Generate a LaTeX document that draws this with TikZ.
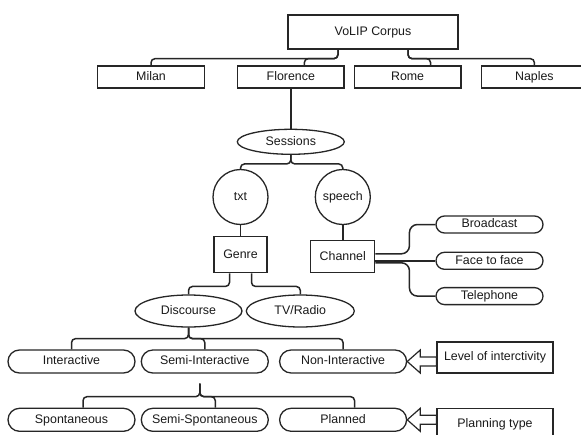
\documentclass[tikz,border=0pt]{standalone}
\usepackage{fontspec}
\setmainfont{Liberation Sans}
\usetikzlibrary{positioning, shapes.geometric, calc}

\begin{document}
\begin{tikzpicture}[
  x=1pt, y=-1pt,
  % ---- Style definitions ----
  base/.style={
    draw=black!85, line width=1.3pt, inner sep=0pt,
    text height=9pt, text depth=2.5pt, text=black!90,
    font=\fontsize{12.4}{14}\selectfont
  },
  box/.style={
    base, rectangle, minimum width=106.5pt, minimum height=22pt
  },
  oval/.style={
    base, ellipse, minimum width=107pt, minimum height=32pt
  },
  circ/.style={
    base, circle, minimum size=55pt
  },
  pill/.style={
    base, rectangle, rounded corners=11.5pt,
    minimum width=127pt, minimum height=23pt
  },
  chan/.style={
    base, rectangle, rounded corners=8.5pt,
    minimum width=107pt, minimum height=17pt
  },
  link/.style={
    draw=black!85, line width=1.5pt, rounded corners=4pt
  },
  hollow/.style={
    draw=black!85, line width=1.2pt, line join=miter
  },
]

\useasboundingbox (0,0) rectangle (581,434);
\clip (0,0) rectangle (581,434);

% ---- Corpus and cities ----
\node[box, minimum width=170pt, minimum height=34pt] (corpus) at (373,32) {VoLIP Corpus};

\node[box] (milan) at (151,77) {Milan};
\node[box, right=32pt of milan] (florence) {Florence};
\node[box, right=9pt of florence] (rome) {Rome};
\node[box, right=19pt of rome] (naples) {Naples};

% ---- Sessions ----
\node[oval, minimum height=25pt, below=40pt of florence] (sessions) {Sessions};

\node[circ] (txt) at (240.5,197) {txt};
\node[circ, right=46pt of txt] (speech) {speech};

\node[box, minimum width=53pt, minimum height=36pt, below=11pt of txt] (genre) {Genre};
\node[box, minimum width=64pt, minimum height=32pt, below=15pt of speech] (channel) {Channel};

% ---- Channels ----
\node[chan] (broadcast) at (489.5,224.5) {Broadcast};
\node[chan, below=18pt of broadcast] (face) {Face to face};
\node[chan, below=17pt of face] (telephone) {Telephone};

% ---- Genres ----
\node[oval] (discourse) at (188.5,311) {Discourse};
\node[oval, minimum width=108pt, right=3pt of discourse] (tv) {TV/Radio};

% ---- Interactivity and planning ----
\node[pill] (inter) at (71.5,361.5) {Interactive};
\node[pill, right=5pt of inter] (semi) {Semi-Interactive};
\node[pill, right=10pt of semi] (non) {Non-Interactive};

\node[pill, below=34pt of inter] (spont) {Spontaneous};
\node[pill, below=34pt of semi] (semispont) {Semi-Spontaneous};
\node[pill, below=34pt of non] (planned) {Planned};

\node[box, minimum width=116pt, minimum height=31pt] (lvl) at (495,357.5) {Level of interctivity};
\node[box, minimum width=116pt, minimum height=31pt, below=34pt of lvl] (plan) {Planning type};

% ---- Tree connectors ----
\draw[link] ([xshift=-35pt]corpus.south) -- ++(0,9) -| (milan.north);
\draw[link] ([xshift=-35pt]corpus.south) -- ++(0,9) -| ([xshift=13.5pt]florence.north);
\draw[link] ([xshift=35pt]corpus.south) -- ++(0,9) -| ([xshift=23pt]rome.north);
\draw[link] ([xshift=35pt]corpus.south) -- ++(0,9) -| (naples.north);

\draw[link] (florence) -- (sessions);

\draw[link] (sessions.south) -- ++(0,9) -| (txt.north);
\draw[link] (sessions.south) -- ++(0,9) -| (speech.north);

\draw[link] (txt) -- (genre);
\draw[link] (speech) -- (channel);

\draw[link, rounded corners=8pt] ([yshift=3pt]channel.east) -- ++(34,0) |- (broadcast.west);
\draw[link] (channel.east |- face.west) -- (face.west);
\draw[link, rounded corners=8pt] ([yshift=-6pt]channel.east) -- ++(34,0) |- (telephone.west);

\draw[link] ([xshift=-11pt]genre.south) -- ++(0,13) -| (discourse.north);
\draw[link] ([xshift=11pt]genre.south) -- ++(0,13) -| (tv.north);

\draw[link] (discourse.south) -- ++(0,11) -| (inter.north);
\draw[link] (discourse.south) -- ++(0,11) -| (semi.north);
\draw[link] (discourse.south) -- ++(0,11) -| (non.north);

\coordinate (tip) at ([xshift=-5pt, yshift=-10pt]semi.south);
\draw[link] (tip) -- ++(0,13) -| ([xshift=11.5pt]spont.north);
\draw[link] (tip) -- ++(0,13) -| ([xshift=10.5pt]semispont.north);
\draw[link] (tip) -- ++(0,13) -| ([xshift=11.5pt]planned.north);

% ---- Hollow arrows ----
\draw[hollow] (non.east) -- ++(13,-11.5) -- ++(0,7)
  -- ($(lvl.west |- non.east)+(0,-4.5)$) -- ++(0,9)
  -- ($(non.east)+(13,4.5)$) -- ++(0,7) -- cycle;
\draw[hollow] (planned.east) -- ++(13,-11.5) -- ++(0,7)
  -- ($(plan.west |- planned.east)+(0,-4.5)$) -- ++(0,9)
  -- ($(planned.east)+(13,4.5)$) -- ++(0,7) -- cycle;

\end{tikzpicture}
\end{document}
